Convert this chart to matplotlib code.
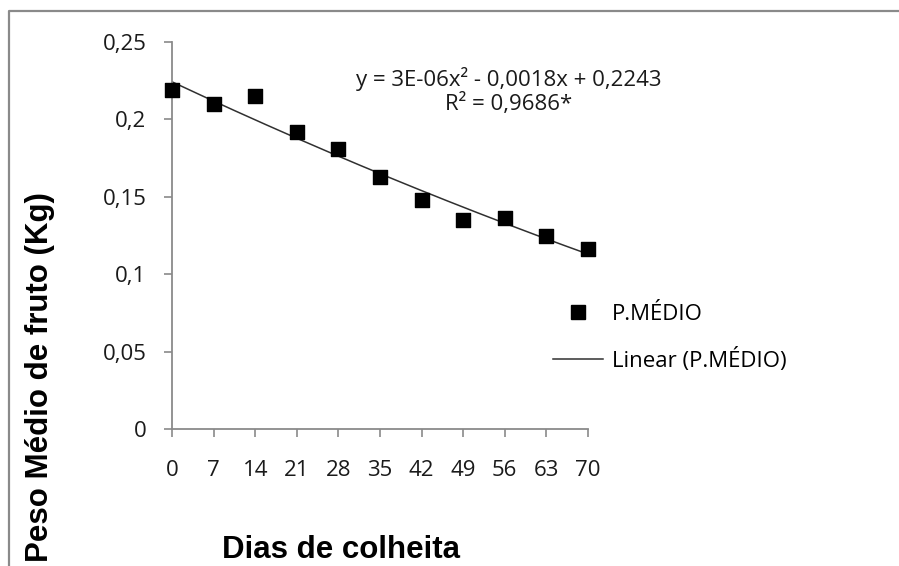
import numpy as np
import matplotlib.pyplot as plt
from matplotlib.lines import Line2D

# harvest day and mean fruit weight (kg)
dias = [0, 7, 14, 21, 28, 35, 42, 49, 56, 63, 70]
peso_medio = [0.219, 0.210, 0.215, 0.192, 0.181, 0.163, 0.148, 0.135, 0.136, 0.125, 0.116]

# fitted trend: y = a*x^2 + b*x + c
coef = [3e-06, -0.0018, 0.2243]
equacao = 'y = 3E-06x² - 0,0018x + 0,2243\nR² = 0,9686*'

y_ticks = [0, 0.05, 0.1, 0.15, 0.2, 0.25]
y_tick_labels = ['0', '0,05', '0,1', '0,15', '0,2', '0,25']

font_txt = 'Open Sans'
font_lbl = 'Liberation Sans'
grey = '#8a8a8a'
fs = 16

fig = plt.figure(figsize=(8.99, 5.66), dpi=100)
ax = fig.add_axes([172 / 899, 1 - 429 / 566, 416 / 899, 387 / 566])

ax.scatter(dias, peso_medio, marker='s', s=110, color='black', zorder=3, clip_on=False)

xs = np.linspace(dias[0], dias[-1], 200)
ax.plot(xs, np.polyval(coef, xs), color='#303030', lw=1.1, zorder=2)

ax.set_xlim(0, 70)
ax.set_ylim(0, 0.25)
ax.set_xticks(dias)
ax.set_xticklabels([str(d) for d in dias])
ax.set_yticks(y_ticks)
ax.set_yticklabels(y_tick_labels)

for side in ['top', 'right']:
    ax.spines[side].set_visible(False)
for side in ['left', 'bottom']:
    ax.spines[side].set_color(grey)
    ax.spines[side].set_linewidth(1.3)
ax.tick_params(axis='both', direction='out', length=5.5, width=1.2, color=grey,
               labelsize=fs, labelcolor='#1a1a1a')
ax.tick_params(axis='y', pad=13)
ax.tick_params(axis='x', pad=17)
for lab in ax.get_xticklabels() + ax.get_yticklabels():
    lab.set_fontfamily(font_txt)

# regression equation
fig.text(509 / 899, 1 - 91 / 566, equacao, ha='center', va='center', multialignment='center',
         linespacing=1.12, fontsize=fs, family=font_txt, color='#1a1a1a')

# legend
handles = [Line2D([], [], marker='s', ls='none', color='black', markersize=10),
           Line2D([], [], color='#303030', lw=1.1)]
fig.legend(handles, ['P.MÉDIO', 'Linear (P.MÉDIO)'], loc='center left',
           bbox_to_anchor=(542 / 899, 1 - 338 / 566), frameon=False,
           prop={'family': font_txt, 'size': fs}, handlelength=2.25, handletextpad=0.4,
           labelspacing=1.05, borderpad=0)

# axis titles
fig.text(341 / 899, 0.5 / 566, 'Dias de colheita', ha='center', va='bottom',
         fontsize=22.5, fontweight='bold', family=font_lbl)
fig.text(40 / 899, 1 - 377 / 566, 'Peso Médio de fruto (Kg)', ha='center', va='center',
         rotation=90, fontsize=22.5, fontweight='bold', family=font_lbl)

# outer frame (top and left edges)
fig.add_artist(Line2D([9 / 899, 9 / 899, 1], [0, 1 - 11 / 566, 1 - 11 / 566],
                      transform=fig.transFigure, color=grey, lw=1.6))

fig.savefig('out.png', dpi=100)
